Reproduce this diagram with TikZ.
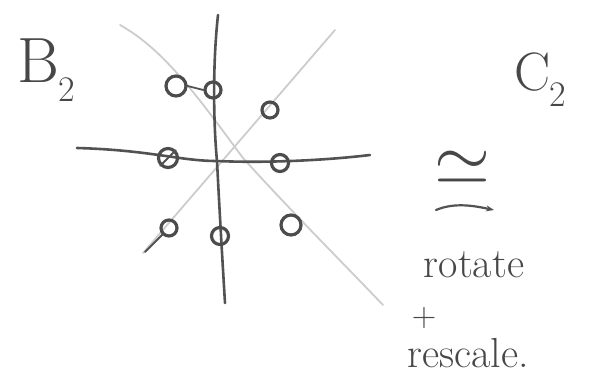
\documentclass[tikz,border=0pt]{standalone}
\usepackage{amsmath,amssymb}
\usepackage{graphicx}
\usepackage{tikz}
\usetikzlibrary{arrows.meta}
\tikzset{
    >={Stealth[length=8pt]},
    % dark pen strokes (axes of the B2 picture)
    axisline/.style={line width=2.6pt, draw=black!68, line cap=round},
    % faint pencil diagonals (the rotated axes)
    diagline/.style={line width=1.8pt, draw=black!20, line cap=round},
    root/.style={circle, draw=black!70, line width=3.2pt, minimum size=16pt, inner sep=0pt},
    handtext/.style={text=black!72, inner sep=0pt}
}
\newcommand{\handsub}[2]{#1\kern-1pt\raisebox{-0.3em}{\fontsize{36}{36}\selectfont #2}}

\begin{document}
\begin{tikzpicture}[x=1pt, y=-1pt]
    \useasboundingbox (0,0) rectangle (589,391);

    % =========================================================================
    % AXES: dark cross and the two faint diagonals
    % =========================================================================
    \coordinate (vtop) at (218,15);
    \coordinate (vbot) at (225,303);
    \coordinate (hleft) at (77,148);
    \coordinate (hright) at (370,155);
    \coordinate (mid) at (217,161);

    \draw[diagline] (120,25) .. controls (165,50) and (200,100) ..
        (243,158) .. controls (290,210) and (340,260) .. (383,305);
    \draw[diagline] (335,30) -- (143,253);

    \draw[axisline] (vtop) .. controls (212,70) and (214,130) .. (mid)
        .. controls (220,220) and (223,270) .. (vbot);
    \draw[axisline] (hleft) .. controls (150,150) and (180,161) .. (mid)
        .. controls (260,163) and (320,161) .. (hright);

    % =========================================================================
    % ROOTS (small circles)
    % =========================================================================
    \node[root, minimum width=13pt, minimum height=20pt] (ra) at (176,86) {};
    \node[root] (rb) at (213,90) {};
    \node[root] (rc) at (270,110) {};
    \node[root, minimum width=15pt, minimum height=19pt] (rd) at (168,158) {};
    \node[root, minimum size=17pt] (re) at (280,163) {};
    \node[root] (rf) at (169,228) {};
    \node[root, minimum width=17pt, minimum height=14pt] (rg) at (220,236) {};
    \node[root, minimum size=20pt] (rh) at (291,225) {};

    % pen tails left on some of the circles
    \draw[axisline, line width=1.8pt] (ra.east) -- (rb.west);
    \draw[axisline, line width=1.8pt] (rf.south west) -- (145,252);
    \draw[axisline, line width=1.8pt] (rd.north east) -- (rd.south west);

    % =========================================================================
    % LABELS
    % =========================================================================
    \node[handtext, font=\fontsize{64}{64}\selectfont] (btwo) at (46,70) {\handsub{B}{2}};
    \node[handtext, font=\fontsize{54}{54}\selectfont] (ctwo) at (540,80) {\handsub{C}{2}};

    \node[handtext] (iso) at (462,168) {\resizebox{56pt}{!}{$\simeq$}};
    \coordinate (isoL) at (436,210);
    \coordinate (isoR) at (494,210);
    \draw[axisline, line width=2.2pt, ->] (isoL) .. controls (455,202) and (475,206) .. (isoR);

    \node[handtext, font=\fontsize{42}{42}\selectfont] (rot) at (474,265) {rotate};
    \node[handtext, font=\fontsize{34}{34}\selectfont] (plus) at (424,318) {+};
    \node[handtext, font=\fontsize{42}{42}\selectfont] (resc) at (468,353) {rescale.};
\end{tikzpicture}
\end{document}
